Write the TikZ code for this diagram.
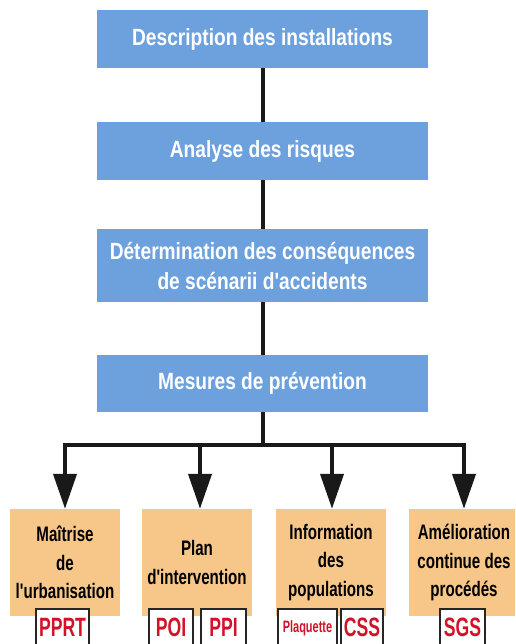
\documentclass[tikz,border=0pt]{standalone}
\usepackage{fontspec}
\setmainfont{Liberation Sans}[FakeStretch=0.815]
\newfontfamily\bluefont{Liberation Sans}[FakeStretch=0.815]
\newfontfamily\orfont{Liberation Sans}[FakeStretch=0.72]
\newfontfamily\labfont{Liberation Sans}[FakeStretch=0.665]
\newcommand{\apos}{\char"27\relax}
\usetikzlibrary{arrows.meta}
\definecolor{stepblue}{RGB}{108,161,222}
\definecolor{outorange}{RGB}{247,199,138}
\definecolor{labred}{RGB}{210,18,40}
\tikzset{
  bluebox/.style={fill=stepblue, text=white, minimum width=331pt, align=center,
    font=\bluefont\fontsize{23.5}{30}\selectfont\bfseries, inner sep=0pt},
  orangebox/.style={fill=outorange, text=black, minimum width=110pt, minimum height=107pt,
    align=center, font=\orfont\fontsize{21}{28.5}\selectfont\bfseries, inner sep=0pt},
  labbox/.style={draw=black!85, line width=1.6pt, fill=white, text=labred, anchor=north,
    minimum height=38pt, inner sep=0pt, font=\labfont\fontsize{26.5}{30}\selectfont\bfseries},
  conn/.style={line width=4pt, black!90},
  arr/.style={conn, -{Triangle[width=23pt,length=35pt]}}
}
\begin{document}
\begin{tikzpicture}[x=1pt,y=-1pt]
\useasboundingbox (0,0) rectangle (515,644);
\clip (0,0) rectangle (515,644);
% blue steps
\node[bluebox, minimum height=58pt] (b1) at (262.5,39) {Description des installations};
\node[bluebox, minimum height=58pt] (b2) at (262.5,151) {Analyse des risques};
\node[bluebox, minimum height=73pt] (b3) at (262.5,265.5) {Détermination des conséquences\\de scénarii d\apos accidents};
\node[bluebox, minimum height=57pt] (b4) at (262.5,383.5) {Mesures de prévention};
% orange outcomes
\node[orangebox] (o1) at (65,562.5) {Maîtrise\\de\\l\apos urbanisation};
\node[orangebox] (o2) at (197,562.5) {Plan\\d\apos intervention};
\node[orangebox] (o3) at (331,562.5) {Information\\des\\populations};
\node[orangebox] (o4) at (464,562.5) {Amélioration\\continue des\\procédés};
% labels
\node[labbox, minimum width=53pt] (l1) at (62.5,608) {PPRT};
\node[labbox, minimum width=44pt] (l2) at (171,608) {POI};
\node[labbox, minimum width=45pt] (l3) at (223.5,608) {PPI};
\node[labbox, minimum width=59pt, font=\labfont\fontsize{16.5}{18}\selectfont\bfseries] (l4) at (307.5,608) {Plaquette};
\node[labbox, minimum width=42pt] (l5) at (362,608) {CSS};
\node[labbox, minimum width=45pt] (l6) at (462.5,608) {SGS};
% connectors
\draw[conn] (b1) -- (b2);
\draw[conn] (b2) -- (b3);
\draw[conn] (b3) -- (b4);
\coordinate (bus) at (262.5,445);
\coordinate (c1) at (65,445);
\coordinate (c2) at (200,445);
\coordinate (c3) at (332,445);
\coordinate (c4) at (464,445);
\draw[conn] (b4) -- (bus);
\draw[conn, line cap=rect] (c1) -- (c4);
\draw[arr] (c1) -- (c1 |- o1.north);
\draw[arr] (c2) -- (c2 |- o2.north);
\draw[arr] (c3) -- (c3 |- o3.north);
\draw[arr] (c4) -- (c4 |- o4.north);
\end{tikzpicture}
\end{document}
